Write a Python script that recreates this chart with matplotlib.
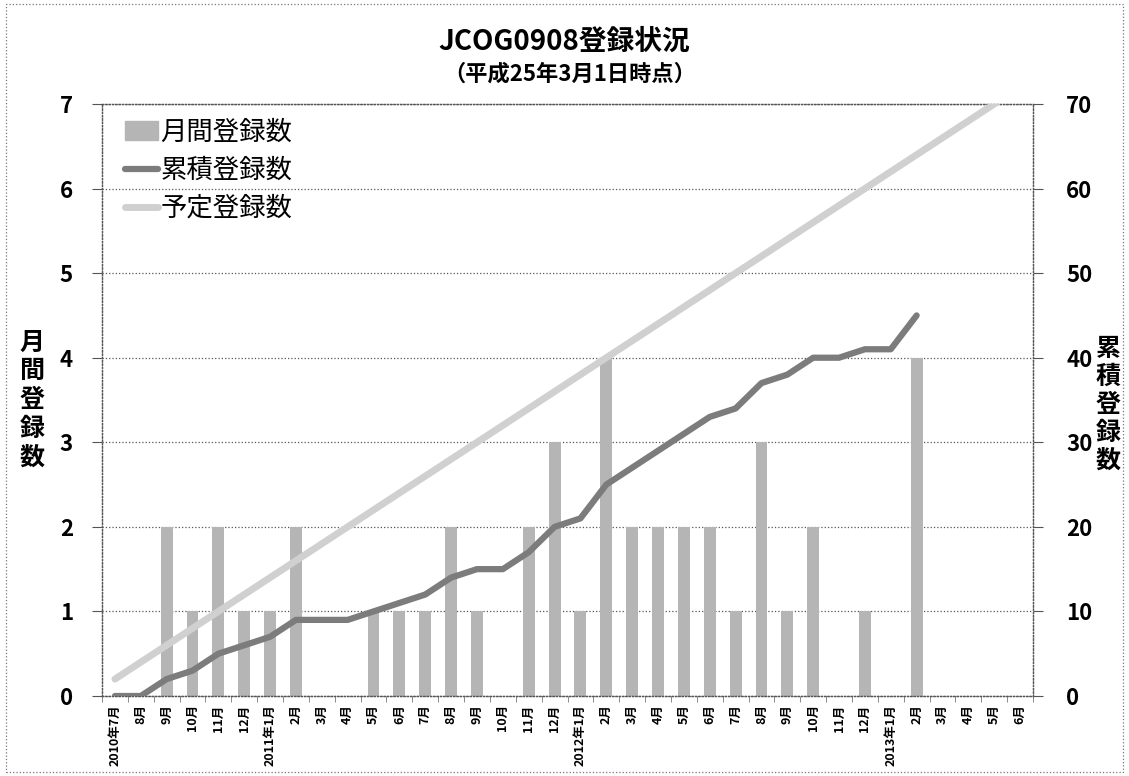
import matplotlib
matplotlib.use("Agg")
import matplotlib.pyplot as plt
from matplotlib.patches import Patch
import numpy as np

plt.rcParams['font.family'] = ['Noto Sans CJK JP', 'DejaVu Sans']

months = ["2010年7月", "8月", "9月", "10月", "11月", "12月",
          "2011年1月", "2月", "3月", "4月", "5月", "6月", "7月", "8月", "9月", "10月", "11月", "12月",
          "2012年1月", "2月", "3月", "4月", "5月", "6月", "7月", "8月", "9月", "10月", "11月", "12月",
          "2013年1月", "2月", "3月", "4月", "5月", "6月"]

monthly = [0, 0, 2, 1, 2, 1,
           1, 2, 0, 0, 1, 1, 1, 2, 1, 0, 2, 3,
           1, 4, 2, 2, 2, 2, 1, 3, 1, 2, 0, 1,
           0, 4]

cumulative = [0, 0, 2, 3, 5, 6,
              7, 9, 9, 9, 10, 11, 12, 14, 15, 15, 17, 20,
              21, 25, 27, 29, 31, 33, 34, 37, 38, 40, 40, 41,
              41, 45]

planned = [2, 4, 6, 8, 10, 12,
           14, 16, 18, 20, 22, 24, 26, 28, 30, 32, 34, 36,
           38, 40, 42, 44, 46, 48, 50, 52, 54, 56, 58, 60,
           62, 64, 66, 68, 70, 72]

legend_labels = ['月間登録数', '累積登録数', '予定登録数']

fig = plt.figure(figsize=(11.29, 7.76), dpi=100)
ax = fig.add_axes([102/1129, 1-696/776, (1033-102)/1129, (696-104)/776])
ax2 = ax.twinx()

x_all = np.arange(len(months))
ax.bar(np.arange(len(monthly)), monthly, width=0.46, color='#b5b5b5', zorder=2)

l1, = ax2.plot(np.arange(len(cumulative)), cumulative, color='#7c7c7c', lw=4.5,
               solid_capstyle='round', zorder=3)
l2, = ax2.plot(np.arange(len(planned)), planned, color='#d0d0d0', lw=5,
               solid_capstyle='round', zorder=3)

ax.set_xlim(-0.5, len(months) - 0.5)
ax.set_ylim(0, 7)
ax2.set_ylim(0, 70)
ax.set_yticks(range(0, 8))
ax2.set_yticks(range(0, 71, 10))

ax.grid(axis='y', linestyle=':', color='#555555', lw=0.9, zorder=0)
ax.set_axisbelow(True)
for a in (ax, ax2):
    for s in a.spines.values():
        s.set_linestyle(':')
        s.set_color('#555555')
        s.set_linewidth(0.9)

ax.set_xticks(x_all)
ax.set_xticklabels(months, rotation=90, fontsize=9, fontweight='bold')
ax.set_xticks(np.arange(-0.5, len(months), 1), minor=True)
ax.tick_params(axis='x', which='major', length=0, pad=6)
ax.tick_params(axis='x', which='minor', length=4, color='#777777', direction='out')

ax.tick_params(axis='y', labelsize=16, length=7, color='#555555', pad=14)
ax2.tick_params(axis='y', labelsize=16, length=7, color='#555555', pad=17)
for lab in ax.get_yticklabels() + ax2.get_yticklabels():
    lab.set_fontweight('bold')

fig.text(32/1129, 1-400/776, "月\n間\n登\n録\n数", ha='center', va='center',
         fontsize=18, fontweight='bold', linespacing=1.25)
fig.text(1108/1129, 1-405/776, "累\n積\n登\n録\n数", ha='center', va='center',
         fontsize=18, fontweight='bold', linespacing=1.2)

fig.text(0.5, 1-42/776, "JCOG0908登録状況", ha='center', va='center',
         fontsize=20, fontweight='bold')
fig.text(0.505, 1-74/776, "（平成25年3月1日時点）", ha='center', va='center',
         fontsize=16, fontweight='bold')

handles = [Patch(color='#b5b5b5'), l1, l2]
leg = ax.legend(handles, legend_labels, loc='upper left',
                bbox_to_anchor=(0.013, 0.993), borderaxespad=0, frameon=False, fontsize=19,
                handlelength=1.25, handletextpad=0.1, labelspacing=0.42)
leg.set_zorder(5)

border = plt.Rectangle((6/1129, 4/776), 1-12/1129, 1-8/776, transform=fig.transFigure,
                       fill=False, linestyle=':', edgecolor='#777777', lw=0.9)
fig.patches.append(border)

fig.savefig("out.png", dpi=100)
